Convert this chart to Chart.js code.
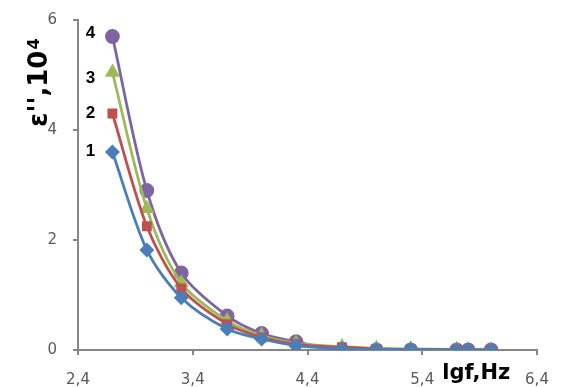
<!DOCTYPE html>
<html><head><meta charset="utf-8">
<script src="https://cdn.jsdelivr.net/npm/chart.js@4"></script>
<style>html,body{margin:0;padding:0;background:#fff}#wrap{width:569px;height:387px}</style>
</head><body><div id="wrap"><canvas id="c"></canvas></div>
<script>
const lgf = [2.7, 3.0, 3.3, 3.7, 4.0, 4.3, 4.7, 5.0, 5.3, 5.7, 5.8, 6.0];
const curve1 = [3.6, 1.82, 0.95, 0.38, 0.2, 0.08, 0.02, 0.01, 0.01, 0.0, 0.0, 0.0];
const curve2 = [4.3, 2.25, 1.12, 0.47, 0.23, 0.1, 0.05, 0.02, 0.01, 0.0, 0.0, 0.0];
const curve3 = [5.05, 2.57, 1.22, 0.53, 0.26, 0.12, 0.06, 0.03, 0.02, 0.01, 0.0, 0.0];
const curve4 = [5.7, 2.9, 1.4, 0.62, 0.3, 0.15, 0.0, 0.0, 0.0, 0.0, 0.0, 0.0];
const curveLabels = ['1', '2', '3', '4'];
const xTicks = [2.4, 3.4, 4.4, 5.4, 6.4];
const yTicks = [0, 2, 4, 6];

const colors = ['#4A7EBB', '#C0504D', '#9BBB59', '#8064A2'];
const styles = ['rectRot', 'rect', 'triangle', 'circle'];
const radii = [5.5, 5, 6, 6];
const labelDy = [-1, 0, 6, -3];
const series = [curve1, curve2, curve3, curve4];

const datasets = series.map((s, i) => ({
  label: curveLabels[i],
  data: s.map((v, j) => ({x: lgf[j], y: v})),
  borderColor: colors[i], backgroundColor: colors[i],
  borderWidth: 2.8, pointStyle: styles[i], pointRadius: radii[i],
  tension: 0.3
}));

const txt = {
  id: 'txt',
  afterDraw(chart) {
    const ctx = chart.ctx, xs = chart.scales.x, ys = chart.scales.y;
    const axisX = chart.chartArea.left;
    ctx.save();
    // y tick labels
    ctx.fillStyle = '#595959';
    ctx.font = '15px "DejaVu Sans", sans-serif';
    ctx.textAlign = 'right'; ctx.textBaseline = 'middle';
    yTicks.forEach(v => ctx.fillText(String(v), axisX - 21, ys.getPixelForValue(v)));
    ctx.fillStyle = '#000';
    ctx.font = 'bold 17px "Liberation Sans", Arial, sans-serif';
    ctx.textAlign = 'center'; ctx.textBaseline = 'middle';
    series.forEach((s, i) => {
      ctx.fillText(curveLabels[i], xs.getPixelForValue(lgf[0]) - 22, ys.getPixelForValue(s[0]) + labelDy[i]);
    });
    ctx.font = 'bold 21px "DejaVu Sans", sans-serif';
    ctx.textAlign = 'left'; ctx.textBaseline = 'alphabetic';
    ctx.fillText('lgf,Hz', xs.getPixelForValue(5.4) + 20, ys.bottom + 29);
    // y title
    ctx.translate(47, 127);
    ctx.rotate(-Math.PI / 2);
    ctx.font = 'bold 26px "DejaVu Sans", sans-serif';
    const main = "ε'',10";
    ctx.fillText(main, 0, 0);
    const u = ctx.measureText(main).width + 1;
    ctx.font = 'bold 16px "DejaVu Sans", sans-serif';
    ctx.fillText('4', u, -8);
    ctx.restore();
  }
};

new Chart(document.getElementById('c'), {
  type: 'line',
  data: {datasets},
  options: {
    responsive: true, maintainAspectRatio: false, animation: false,
    layout: {padding: {top: 20, right: 32, left: 47, bottom: 0}},
    plugins: {legend: {display: false}, tooltip: {enabled: false}},
    scales: {
      x: {
        type: 'linear', min: 2.4, max: 6.4,
        afterBuildTicks: sc => { sc.ticks = xTicks.map(v => ({value: v})); },
        afterFit: sc => { sc.height = 37; },
        ticks: {color: '#595959', font: {family: '"DejaVu Sans", sans-serif', size: 15}, padding: 16,
          callback: v => v.toFixed(1).replace('.', ','), maxRotation: 0},
        grid: {display: true, drawOnChartArea: false, drawTicks: true, tickLength: 5, color: '#868686', lineWidth: 2},
        border: {display: true, color: '#868686', width: 2}
      },
      y: {
        min: 0, max: 6,
        afterBuildTicks: sc => { sc.ticks = yTicks.map(v => ({value: v})); },
        afterFit: sc => { sc.width = 31; },
        ticks: {display: false},
        grid: {display: true, drawOnChartArea: false, drawTicks: true, tickLength: 5, color: '#868686', lineWidth: 2},
        border: {display: true, color: '#868686', width: 2}
      }
    }
  },
  plugins: [txt]
});
</script>
</body></html>
